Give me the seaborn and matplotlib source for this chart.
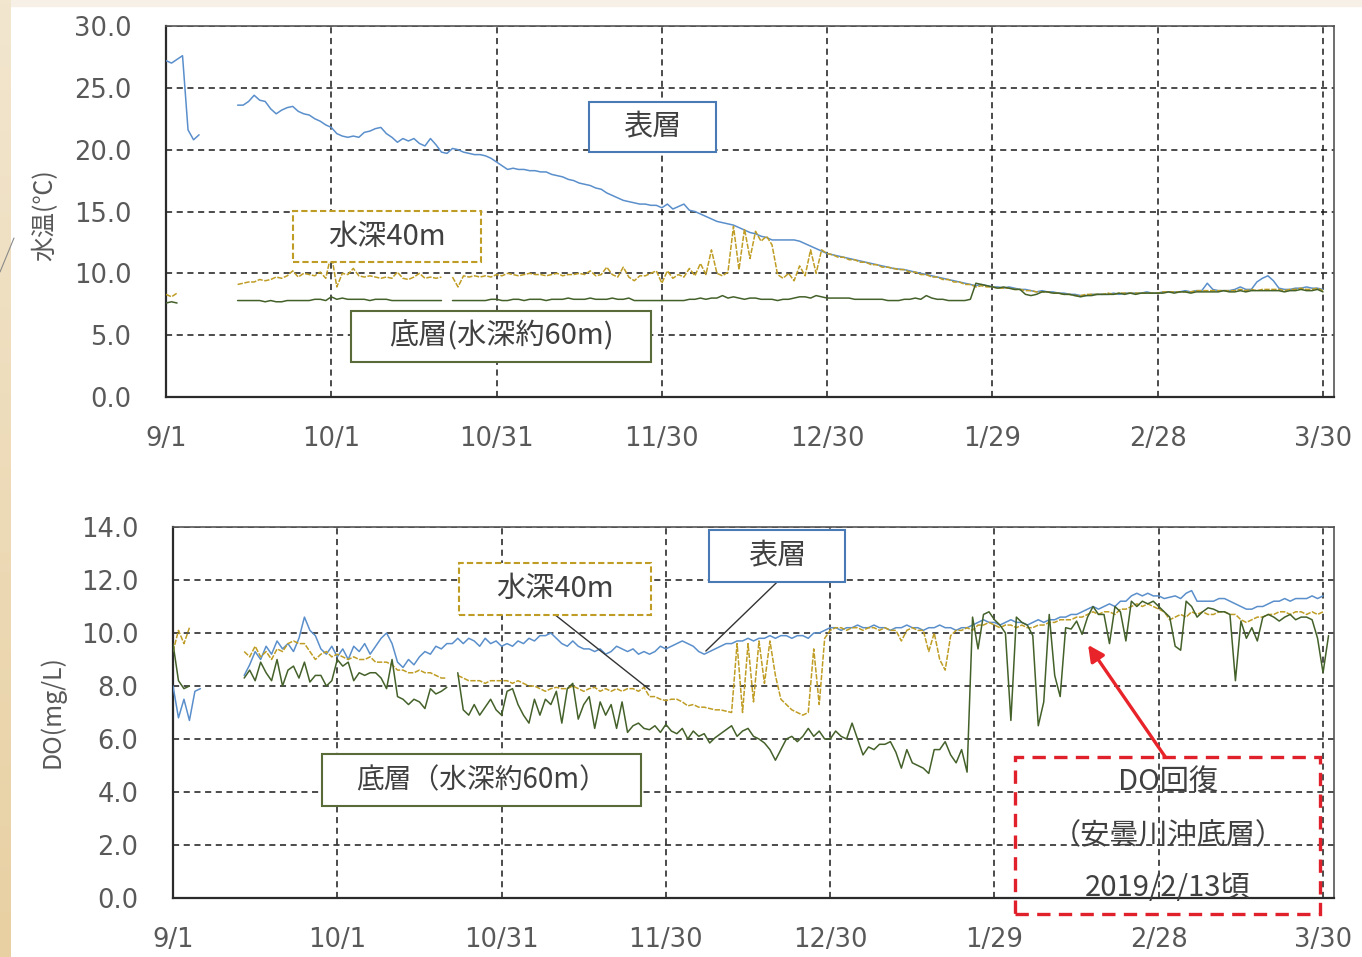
import numpy as np
import pandas as pd
import matplotlib
matplotlib.use("Agg")
import matplotlib.pyplot as plt
from matplotlib.patches import Rectangle
from matplotlib.lines import Line2D
from matplotlib.colors import LinearSegmentedColormap
import seaborn as sns

nan = np.nan
START = pd.Timestamp("2018-09-01")

# ---- daily water temperature (deg C), 2018-09-01 .. 2019-03-31 ----
TEMP_SURFACE = [
    27.2, 27.0, 27.3, 27.6, 21.6, 20.8, 21.2, nan, nan, nan,
    nan, nan, nan, 23.6, 23.6, 23.9, 24.4, 24.0, 23.9, 23.3,
    22.9, 23.2, 23.4, 23.5, 23.1, 22.9, 22.8, 22.5, 22.3, 22.0,
    21.8, 21.3, 21.1, 21.0, 21.1, 21.0, 21.4, 21.5, 21.7, 21.8,
    21.3, 21.0, 20.6, 20.9, 20.7, 20.9, 20.5, 20.3, 20.9, 20.4,
    19.8, 19.7, 20.1, 20.0, 19.8, 19.7, 19.6, 19.6, 19.5, 19.3,
    19.0, 18.7, 18.4, 18.5, 18.4, 18.4, 18.3, 18.3, 18.2, 18.2,
    18.0, 17.9, 17.8, 17.6, 17.5, 17.3, 17.2, 17.1, 16.9, 16.8,
    16.5, 16.3, 16.1, 15.9, 15.8, 15.7, 15.6, 15.6, 15.5, 15.5,
    15.3, 15.6, 15.2, 15.4, 15.6, 15.1, 15.0, 14.8, 14.6, 14.4,
    14.2, 14.1, 14.0, 13.9, 13.7, 13.5, 13.3, 13.2, 13.0, 12.9,
    12.7, 12.7, 12.7, 12.7, 12.7, 12.6, 12.4, 12.2, 12.0, 11.8,
    11.6, 11.5, 11.4, 11.3, 11.2, 11.1, 11.0, 10.9, 10.8, 10.7,
    10.6, 10.5, 10.4, 10.35, 10.3, 10.2, 10.1, 10.0, 9.9, 9.8,
    9.7, 9.6, 9.5, 9.4, 9.3, 9.2, 9.1, 9.0, 9.1, 9.0,
    8.9, 8.9, 8.8, 8.9, 8.8, 8.7, 8.7, 8.6, 8.5, 8.6,
    8.5, 8.5, 8.4, 8.4, 8.3, 8.3, 8.2, 8.2, 8.3, 8.3,
    8.3, 8.3, 8.4, 8.3, 8.4, 8.4, 8.4, 8.4, 8.5, 8.4,
    8.4, 8.5, 8.5, 8.5, 8.5, 8.6, 8.5, 8.6, 8.6, 9.2,
    8.7, 8.6, 8.6, 8.6, 8.7, 8.9, 8.7, 8.7, 9.3, 9.6,
    9.8, 9.4, 8.8, 8.7, 8.7, 8.8, 8.8, 8.9, 8.8, 8.8,
    8.7, nan,
]
TEMP_40M = [
    8.3, 8.1, 8.4, nan, nan, nan, nan, nan, nan, nan,
    nan, nan, nan, 9.1, 9.2, 9.3, 9.3, 9.5, 9.4, 9.5,
    9.7, 9.6, 9.8, 10.2, 9.7, 10.0, 9.9, 9.8, 10.1, 9.6,
    11.6, 8.9, 10.0, 9.9, 10.4, 9.8, 9.7, 9.8, 9.7, 9.6,
    9.7, 9.6, 10.1, 9.6, 9.5, 9.7, 10.0, 9.6, 9.7, 9.6,
    9.7, nan, 9.7, 8.9, 9.8, 9.7, 9.8, 9.7, 9.8, 9.7,
    9.9, 9.8, 10.0, 9.9, 9.8, 9.9, 10.0, 9.9, 9.9, 9.8,
    9.9, 10.0, 9.8, 9.9, 9.9, 10.0, 9.9, 10.2, 9.8, 9.9,
    10.5, 9.9, 9.7, 10.5, 9.7, 9.4, 9.8, 9.8, 10.0, 10.2,
    9.2, 10.2, 9.6, 9.9, 9.7, 10.4, 9.8, 10.8, 9.9, 11.9,
    10.0, 9.8, 10.1, 13.8, 10.3, 13.6, 11.2, 13.4, 12.6, 13.0,
    12.3, 9.9, 9.6, 10.0, 9.4, 10.6, 9.8, 11.9, 10.0, 11.9,
    11.6, 11.5, 11.3, 11.3, 11.1, 11.1, 10.9, 10.9, 10.7, 10.7,
    10.5, 10.5, 10.4, 10.3, 10.3, 10.1, 10.1, 9.9, 9.9, 9.7,
    9.7, 9.5, 9.5, 9.3, 9.3, 9.1, 9.1, 8.9, 9.0, 8.9,
    8.9, 8.8, 8.8, 8.8, 8.7, 8.7, 8.6, 8.6, 8.5, 8.5,
    8.5, 8.4, 8.4, 8.3, 8.3, 8.2, 8.2, 8.3, 8.3, 8.3,
    8.3, 8.4, 8.3, 8.4, 8.4, 8.4, 8.4, 8.4, 8.4, 8.4,
    8.4, 8.5, 8.5, 8.5, 8.5, 8.5, 8.5, 8.6, 8.6, 8.6,
    8.6, 8.6, 8.6, 8.6, 8.6, 8.7, 8.6, 8.7, 8.6, 8.7,
    8.7, 8.7, 8.7, 8.6, 8.7, 8.7, 8.8, 8.7, 8.7, 8.8,
    8.6, nan,
]
TEMP_BOTTOM = [
    7.6, 7.7, 7.6, nan, nan, nan, nan, nan, nan, nan,
    nan, nan, nan, 7.8, 7.8, 7.8, 7.8, 7.8, 7.7, 7.8,
    7.7, 7.7, 7.8, 7.8, 7.8, 7.8, 7.8, 7.9, 7.9, 7.8,
    8.1, 7.9, 8.0, 7.9, 7.9, 7.9, 7.9, 7.8, 7.9, 7.9,
    7.9, 7.8, 7.8, 7.8, 7.8, 7.8, 7.8, 7.8, 7.8, 7.8,
    7.8, nan, 7.8, 7.8, 7.8, 7.8, 7.8, 7.8, 7.8, 7.9,
    7.9, 7.8, 7.8, 7.9, 7.9, 7.8, 7.9, 7.9, 7.9, 7.8,
    7.9, 7.9, 7.9, 8.0, 7.9, 7.9, 7.9, 8.0, 7.9, 7.9,
    7.9, 8.0, 7.9, 7.9, 8.0, 7.8, 7.8, 7.8, 7.8, 7.8,
    7.8, 7.8, 7.8, 7.8, 7.8, 7.9, 7.9, 8.0, 7.9, 8.0,
    8.0, 8.2, 8.0, 8.1, 8.0, 7.9, 8.0, 8.0, 7.9, 7.9,
    7.9, 7.8, 7.9, 7.9, 8.0, 8.1, 8.1, 8.0, 8.2, 8.1,
    8.0, 8.0, 8.0, 8.0, 8.0, 7.9, 7.9, 7.9, 7.9, 7.9,
    7.9, 7.8, 7.8, 7.8, 7.9, 7.9, 8.0, 7.9, 8.2, 8.0,
    7.9, 7.9, 7.8, 7.8, 7.8, 7.8, 7.9, 9.2, 9.1, 9.0,
    8.9, 8.8, 8.9, 8.8, 8.7, 8.7, 8.3, 8.2, 8.3, 8.5,
    8.5, 8.4, 8.4, 8.3, 8.3, 8.2, 8.1, 8.2, 8.2, 8.3,
    8.3, 8.3, 8.3, 8.4, 8.3, 8.4, 8.3, 8.4, 8.4, 8.4,
    8.4, 8.4, 8.5, 8.4, 8.5, 8.5, 8.4, 8.5, 8.5, 8.5,
    8.5, 8.5, 8.6, 8.5, 8.5, 8.6, 8.5, 8.6, 8.6, 8.6,
    8.6, 8.6, 8.6, 8.5, 8.6, 8.6, 8.7, 8.6, 8.6, 8.7,
    8.5, nan,
]

# ---- daily dissolved oxygen (mg/L) ----
DO_SURFACE = [
    8.0, 6.8, 7.5, 6.7, 7.8, 7.9, nan, nan, nan, nan,
    nan, nan, nan, 8.4, 8.8, 9.3, 9.0, 9.5, 9.2, 9.7,
    9.4, 9.6, 9.3, 9.8, 10.6, 10.1, 9.9, 9.4, 9.2, 9.5,
    9.1, 9.4, 9.0, 9.5, 9.3, 9.6, 9.2, 9.5, 9.8, 10.0,
    9.6, 8.9, 8.7, 9.0, 8.8, 9.1, 9.3, 9.2, 9.5, 9.4,
    9.6, 9.6, 9.8, 9.6, 9.8, 9.7, 9.5, 9.8, 9.6, 9.7,
    9.5, 9.6, 9.5, 9.7, 9.6, 9.8, 9.7, 9.9, 9.9, 10.0,
    9.8, 9.6, 9.5, 9.7, 9.5, 9.4, 9.4, 9.3, 9.4, 9.2,
    9.3, 9.5, 9.4, 9.3, 9.4, 9.2, 9.3, 9.2, 9.3, 9.5,
    9.4, 9.5, 9.6, 9.7, 9.6, 9.5, 9.3, 9.2, 9.3, 9.4,
    9.5, 9.6, 9.6, 9.7, 9.7, 9.8, 9.7, 9.8, 9.8, 9.9,
    9.8, 9.9, 9.9, 9.8, 9.9, 9.9, 9.8, 10.0, 10.0, 10.1,
    10.2, 10.2, 10.1, 10.2, 10.2, 10.3, 10.2, 10.2, 10.3, 10.2,
    10.2, 10.1, 10.2, 10.2, 10.3, 10.2, 10.2, 10.1, 10.2, 10.2,
    10.3, 10.2, 10.2, 10.1, 10.2, 10.2, 10.3, 10.4, 10.5, 10.4,
    10.4, 10.3, 10.4, 10.5, 10.4, 10.4, 10.3, 10.4, 10.5, 10.4,
    10.5, 10.5, 10.6, 10.6, 10.7, 10.7, 10.8, 10.9, 11.0, 10.9,
    11.0, 11.1, 11.0, 11.2, 11.2, 11.4, 11.5, 11.4, 11.5, 11.4,
    11.4, 11.3, 11.35, 11.4, 11.3, 11.5, 11.6, 11.2, 11.2, 11.2,
    11.2, 11.3, 11.3, 11.2, 11.1, 11.0, 10.9, 10.9, 11.0, 11.0,
    11.1, 11.2, 11.2, 11.3, 11.2, 11.3, 11.3, 11.3, 11.4, 11.3,
    11.4, nan,
]
DO_40M = [
    9.3, 10.1, 9.6, 10.2, nan, nan, nan, nan, nan, nan,
    nan, nan, nan, 9.3, 9.1, 9.5, 9.1, 9.3, 9.0, 9.4,
    9.3, 9.6, 9.7, 9.6, 9.6, 9.3, 9.0, 9.2, 9.3, 9.1,
    9.2, 9.1, 9.0, 9.1, 9.0, 9.0, 9.1, 8.9, 8.9, 8.9,
    8.8, 8.6, 8.6, 8.5, 8.5, 8.6, 8.5, 8.5, 8.4, 8.3,
    8.3, nan, 8.4, 8.3, 8.2, 8.2, 8.2, 8.1, 8.2, 8.2,
    8.2, 8.2, 8.1, 8.2, 8.1, 8.0, 8.0, 7.9, 7.8, 7.9,
    7.95, 7.9, 7.9, 8.0, 7.9, 7.8, 7.9, 7.95, 7.8, 7.9,
    7.8, 7.9, 7.8, 7.9, 7.9, 7.8, 7.95, 7.6, 7.6, 7.5,
    7.45, 7.5, 7.5, 7.4, 7.25, 7.3, 7.2, 7.2, 7.15, 7.1,
    7.1, 7.05, 7.0, 9.6, 7.0, 9.6, 7.4, 9.7, 8.1, 9.7,
    8.4, 7.5, 7.3, 7.1, 7.0, 6.9, 7.0, 9.4, 7.3, 9.8,
    10.1, 10.2, 10.2, 10.1, 10.2, 10.2, 10.1, 10.2, 10.2, 10.1,
    10.2, 10.1, 10.1, 9.7, 10.1, 10.2, 10.1, 10.1, 9.3, 10.0,
    9.0, 8.6, 9.9, 10.1, 10.1, 10.2, 10.1, 10.3, 10.3, 10.4,
    10.3, 10.2, 10.3, 10.3, 10.2, 10.3, 10.2, 10.2, 10.3, 10.3,
    10.4, 10.4, 10.5, 10.5, 10.5, 10.6, 10.6, 10.7, 10.8, 10.7,
    10.8, 10.8, 10.7, 10.9, 10.9, 11.0, 11.1, 11.0, 11.1, 11.0,
    10.9, 10.8, 10.5, 10.6, 10.7, 10.6, 10.8, 10.7, 10.8, 10.7,
    10.7, 10.8, 10.8, 10.7, 10.7, 10.5, 10.4, 10.5, 10.6, 10.6,
    10.7, 10.7, 10.8, 10.8, 10.7, 10.8, 10.8, 10.7, 10.8, 10.7,
    10.8, nan,
]
DO_BOTTOM = [
    9.6, 8.2, 7.9, 8.0, nan, nan, nan, nan, nan, nan,
    nan, nan, nan, 8.3, 8.6, 8.2, 8.9, 8.5, 8.2, 9.0,
    8.0, 8.6, 8.75, 8.3, 8.9, 8.15, 8.4, 8.4, 8.0, 8.2,
    9.0, 8.75, 8.9, 8.2, 8.5, 8.4, 8.5, 8.5, 8.3, 7.9,
    9.0, 7.6, 7.5, 7.3, 7.5, 7.4, 7.15, 7.9, 7.7, 7.8,
    7.95, nan, 8.5, 7.1, 6.9, 7.3, 6.9, 7.2, 7.5, 7.1,
    6.9, 7.8, 7.9, 7.3, 6.9, 6.6, 7.5, 6.9, 7.5, 7.3,
    7.8, 6.6, 7.9, 8.1, 6.75, 7.3, 7.6, 6.4, 7.4, 6.9,
    7.3, 6.4, 7.4, 6.25, 6.5, 6.6, 6.4, 6.35, 6.5, 6.25,
    6.55, 6.3, 6.2, 6.4, 6.0, 6.3, 6.1, 6.2, 5.85, 6.05,
    6.2, 6.35, 6.5, 6.1, 6.3, 6.4, 6.1, 6.0, 5.85, 5.6,
    5.2, 5.6, 6.0, 6.1, 5.9, 6.1, 6.4, 6.1, 6.3, 6.0,
    6.0, 6.3, 6.1, 6.0, 6.6, 6.0, 5.4, 5.7, 5.6, 5.8,
    5.8, 5.9, 5.5, 4.9, 5.6, 5.1, 5.0, 4.9, 4.7, 5.6,
    5.6, 5.9, 5.4, 5.1, 5.6, 4.75, 10.6, 9.4, 10.7, 10.8,
    10.5, 10.3, 10.0, 6.7, 10.6, 10.4, 10.3, 9.9, 6.5, 7.4,
    10.7, 8.4, 7.6, 10.2, 10.15, 10.45, 9.95, 10.6, 11.0, 10.7,
    10.7, 9.6, 11.0, 10.8, 9.7, 11.2, 11.0, 11.2, 11.1, 11.2,
    11.0, 10.8, 10.6, 9.5, 9.35, 11.2, 11.0, 10.6, 10.8, 10.95,
    10.9, 10.8, 10.8, 10.7, 8.2, 10.45, 9.8, 10.2, 9.7, 10.6,
    10.7, 10.6, 10.45, 10.6, 10.7, 10.5, 10.6, 10.6, 10.5, 9.8,
    8.5, 9.9,
]

TICK_DAYS = [0, 30, 60, 90, 120, 150, 180, 210]
TEMP_TICKS = [0, 5, 10, 15, 20, 25, 30]
DO_TICKS = [0, 2, 4, 6, 8, 10, 12, 14]
RECOVERY_DATE = pd.Timestamp("2019-02-13")

C_SURF = "#5a8fcb"
C_40M = "#bf9d24"
C_BOT = "#44612a"
C_TEXT = "#404040"
C_TICK = "#595959"


def long_form(values):
    v = pd.Series(values, dtype=float)
    df = pd.DataFrame({"day": np.arange(len(v)), "value": v,
                       "seg": v.isna().cumsum()})
    return df.dropna()


def day_label(d):
    t = START + pd.Timedelta(days=int(d))
    return f"{t.month}/{t.day}"


sns.set_theme(style="white")
plt.rcParams["font.family"] = ["Noto Sans CJK JP", "DejaVu Sans"]

W, H = 1362, 957
fig = plt.figure(figsize=(W / 100, H / 100), dpi=100, facecolor="white")

# slide backdrop: cream top strip, tan band on the left edge, thin diagonal
fig.add_artist(Rectangle((0, 1 - 6 / H), 1, 6 / H, transform=fig.transFigure,
                         color="#f6f0e6", zorder=-5))
band = fig.add_axes([0, 0, 11 / W, 1], zorder=-4)
grad = np.linspace(0, 1, 256)[:, None]
tan = LinearSegmentedColormap.from_list("tan", ["#f2e6cf", "#e8d0a2"])
band.imshow(grad, aspect="auto", cmap=tan, extent=[0, 1, 0, 1], origin="upper")
band.set_axis_off()
fig.add_artist(Line2D([0, 14 / W], [1 - 272 / H, 1 - 238 / H],
                      transform=fig.transFigure, color="#8a8a8a", lw=0.8))

ax1 = fig.add_axes([166 / W, 1 - 397 / H, (1334 - 166) / W, (397 - 26) / H])
ax2 = fig.add_axes([173 / W, 1 - 898 / H, (1334 - 173) / W, (898 - 527) / H])

series = [
    (ax1, TEMP_SURFACE, C_SURF, "-"),
    (ax1, TEMP_40M, C_40M, (0, (3.5, 1.0))),
    (ax1, TEMP_BOTTOM, C_BOT, "-"),
    (ax2, DO_SURFACE, C_SURF, "-"),
    (ax2, DO_40M, C_40M, (0, (3.5, 1.0))),
    (ax2, DO_BOTTOM, C_BOT, "-"),
]
for ax, vals, col, ls in series:
    sns.lineplot(data=long_form(vals), x="day", y="value", units="seg",
                 estimator=None, sort=False, color=col, lw=1.1,
                 linestyle=ls, legend=False, ax=ax, zorder=3)

for ax, yt, ylim in [(ax1, TEMP_TICKS, 30), (ax2, DO_TICKS, 14)]:
    ax.set_facecolor("white")
    ax.set_xlim(0, 212)
    ax.set_ylim(0, ylim)
    ax.set_xticks(TICK_DAYS)
    ax.set_xticklabels([day_label(d) for d in TICK_DAYS])
    ax.set_yticks(yt)
    ax.set_yticklabels([f"{v:.1f}" for v in yt])
    ax.set_xlabel("")
    ax.set_ylabel("")
    ax.grid(True, color="#1a1a1a", linestyle=(0, (4, 3)), lw=1.1)
    ax.set_axisbelow(True)
    ax.tick_params(axis="both", length=0, labelsize=18.5, labelcolor=C_TICK,
                   labelfontfamily="DejaVu Sans")
    ax.tick_params(axis="y", pad=25)
    ax.tick_params(axis="x", pad=21)
    for side, sp in ax.spines.items():
        sp.set_visible(True)
        sp.set_color("#2b2b2b" if side in ("left", "bottom") else "#555555")
        sp.set_linewidth(1.6 if side in ("left", "bottom") else 1.2)

fig.text(45 / W, 1 - 215 / H, "水温(℃)", rotation=90, ha="center", va="center",
         fontsize=18, color=C_TICK)
fig.text(52 / W, 1 - 712 / H, "DO(mg/L)", rotation=90, ha="center", va="center",
         fontsize=18, color=C_TICK)


def label_box(ax, x0, x1, y0, y1, text, ec, ls="-", size=21):
    ax.add_patch(Rectangle((x0, y0), x1 - x0, y1 - y0, fc="white", ec=ec,
                           lw=1.5, ls=ls, zorder=8, clip_on=False))
    ax.text((x0 + x1) / 2, (y0 + y1) / 2, text, ha="center", va="center",
            fontsize=size, color=C_TEXT, zorder=9)


# temperature panel labels
label_box(ax1, 76.8, 99.8, 19.8, 23.85, "表層", "#4a7ab5")
label_box(ax1, 23.0, 57.2, 10.9, 15.05, "水深40m", C_40M, ls=(0, (3, 1.5)))
label_box(ax1, 33.6, 88.0, 2.85, 6.95, "底層(水深約60m)", "#5a6b3a")

# DO panel labels with leader lines
ax2.plot([110.3, 97.3], [11.92, 9.32], color="#333333", lw=1.0, zorder=7)
ax2.plot([69.8, 87.1], [10.68, 7.85], color="#333333", lw=1.0, zorder=7)
label_box(ax2, 97.9, 122.7, 11.92, 13.9, "表層", "#4a7ab5")
label_box(ax2, 52.2, 87.3, 10.68, 12.64, "水深40m", C_40M, ls=(0, (3, 1.5)))
label_box(ax2, 27.2, 85.5, 3.47, 5.43, "底層（水深約60m）", "#5a6b3a", size=20)

# recovery callout
rec_day = (RECOVERY_DATE - START).days
ax2.add_patch(Rectangle((153.8, -0.6), 55.7, 5.92, fill=False, ec="#e0202a",
                        lw=2.4, ls=(0, (4, 2.5)), zorder=8, clip_on=False))
ax2.annotate("", xy=(rec_day + 2.1, 9.55), xytext=(181.2, 5.32),
             arrowprops=dict(arrowstyle="-|>", color="#e8232a", lw=2.4,
                             mutation_scale=24, shrinkA=0, shrinkB=0),
             zorder=9)
for yv, txt in [(4.38, "DO回復"), (2.34, "（安曇川沖底層）"), (0.38, "2019/2/13頃")]:
    ax2.text(181.7, yv, txt, ha="center", va="center", fontsize=21,
             color=C_TEXT, zorder=9, clip_on=False)

fig.savefig("out.png", dpi=100, facecolor=fig.get_facecolor())
